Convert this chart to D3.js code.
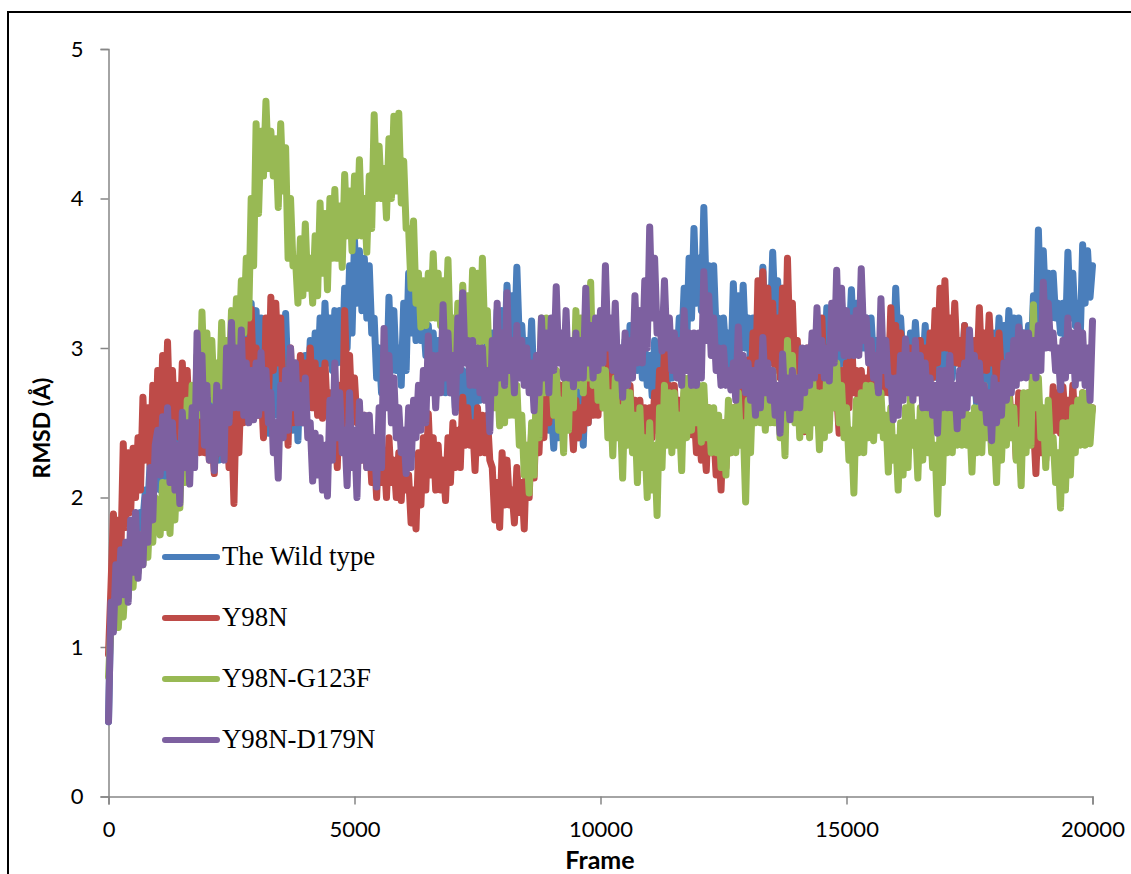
<!DOCTYPE html>
<html>
<head>
<meta charset="utf-8">
<script src="https://cdn.jsdelivr.net/npm/d3@7"></script>
<style>
  html, body { margin: 0; padding: 0; background: #fff; overflow: hidden; }
  text { fill: #000; }
</style>
</head>
<body>
<svg id="chart" width="1131" height="874"></svg>
<script>
// one value every 50 frames, each row is 1000 frames; the trace swings up and
// down inside its band so the values go high, low, high, low
const frames = d3.range(0, 20001, 50);

const wildType = [
  0.5,1.3,1.35,1.45,1.4,1.5,1.4,1.55,1.5,1.65,1.55,1.75,1.7,1.9,1.85,2.05,1.95,2.25,2.0,2.3,
  2.3,2.05,2.4,2.1,2.45,2.15,2.5,2.2,2.55,2.2,2.6,2.25,2.65,2.3,2.7,2.3,2.65,2.33,2.8,2.4,
  2.7,2.35,2.65,2.3,2.6,2.25,2.75,2.4,2.9,2.5,3.0,2.55,3.1,2.65,3.15,2.7,3.2,2.75,3.3,2.8,
  3.25,2.75,3.2,2.65,3.0,2.43,3.1,2.55,2.9,2.55,3.05,2.7,3.23,2.75,2.85,2.45,2.9,2.38,2.9,2.5,
  2.95,2.65,3.05,2.7,3.1,2.75,3.2,2.8,3.3,2.9,3.2,2.85,3.25,2.9,3.25,2.9,3.4,3.0,3.55,3.1,
  3.72,3.3,3.65,3.25,3.6,3.2,3.55,3.1,3.2,2.8,3.0,2.7,2.95,2.7,3.34,2.85,3.25,2.85,3.0,2.75,
  3.3,2.85,3.5,3.1,3.4,3.05,3.25,3.05,3.2,2.95,3.15,2.9,3.1,2.8,3.05,2.8,3.0,2.7,2.95,2.7,
  2.95,2.6,2.85,2.6,2.85,2.5,2.8,2.5,2.75,2.5,2.85,2.65,3.0,2.7,3.05,2.7,3.1,2.8,3.25,2.85,
  3.25,2.95,3.42,3.0,3.35,3.0,3.54,3.05,3.15,2.85,3.05,2.8,3.18,2.7,2.95,2.65,2.85,2.55,2.7,2.45,
  2.6,2.33,2.7,2.4,2.75,2.45,2.85,2.5,2.9,2.55,2.75,2.4,2.7,2.35,2.85,2.5,3.0,2.6,3.05,2.7,
  3.05,2.75,3.1,2.75,3.1,2.8,3.16,2.85,3.0,2.7,3.05,2.75,3.15,2.85,3.2,2.85,3.2,2.8,3.0,2.75,
  2.95,2.68,3.05,2.7,3.0,2.72,3.0,2.75,2.95,2.8,3.0,2.85,3.2,3.0,3.4,3.0,3.6,3.2,3.8,3.3,
  3.6,3.25,3.94,3.35,3.55,3.2,3.55,3.1,3.2,2.9,3.2,2.95,3.1,2.85,3.43,3.0,3.35,3.0,3.42,3.0,
  3.2,2.9,3.2,2.95,3.3,3.0,3.54,3.1,3.4,3.1,3.64,3.2,3.45,3.1,3.4,3.0,3.1,2.85,3.1,2.7,
  2.9,2.6,2.9,2.65,2.95,2.7,3.0,2.75,3.05,2.8,3.1,2.85,3.27,2.9,3.1,2.8,3.15,2.85,3.3,2.9,
  3.2,3.0,3.39,3.0,3.3,3.0,3.38,3.0,3.2,2.95,3.2,2.9,3.05,2.85,3.1,2.85,3.05,2.8,3.15,2.85,
  3.4,3.0,3.2,2.9,3.0,2.8,3.1,2.85,3.17,2.9,3.05,2.85,3.15,2.85,3.05,2.85,3.1,2.8,3.0,2.8,
  3.1,2.8,3.05,2.8,3.15,2.9,3.05,2.85,3.15,2.85,3.0,2.7,2.85,2.6,2.7,2.43,2.85,2.6,3.05,2.75,
  3.1,2.85,3.2,2.9,3.15,2.9,3.25,2.95,3.2,2.9,3.2,2.95,3.1,2.9,3.15,2.9,3.35,3.0,3.79,3.2,
  3.65,3.25,3.5,3.2,3.5,3.2,3.3,3.1,3.3,3.05,3.64,3.2,3.5,3.15,3.3,3.05,3.69,3.3,3.65,3.34,
  3.55
];

const y98n = [
  0.95,1.4,1.89,1.5,1.85,1.6,2.36,1.8,2.3,1.9,2.33,2.0,2.4,2.05,2.67,2.25,2.6,2.2,2.75,2.3,
  2.85,2.4,2.95,2.45,3.04,2.5,2.85,2.45,2.75,2.4,2.9,2.5,2.85,2.4,2.7,2.35,2.6,2.3,2.6,2.3,
  2.55,2.25,2.5,2.16,2.6,2.3,2.75,2.4,2.6,2.2,2.5,1.96,2.7,2.3,2.8,2.5,3.05,2.55,3.26,2.7,
  3.0,2.55,2.75,2.4,3.2,2.6,3.34,2.85,3.3,2.9,3.2,2.6,2.75,2.35,3.0,2.5,2.85,2.6,2.95,2.6,
  2.9,2.6,3.0,2.6,2.9,2.55,2.85,2.53,2.9,2.55,2.7,2.35,2.55,2.2,2.75,2.4,3.25,2.7,2.95,2.55,
  2.8,2.5,2.55,2.25,2.55,2.2,2.4,2.1,2.3,2.0,2.45,2.1,2.3,2.0,2.4,2.1,2.25,2.0,2.3,1.98,
  2.4,2.05,2.15,1.83,2.05,1.79,2.3,1.95,2.4,2.05,2.56,2.15,2.4,2.05,2.35,2.05,2.25,1.98,2.4,2.1,
  2.5,2.2,2.45,2.2,2.67,2.35,2.6,2.35,2.5,2.18,2.6,2.3,2.55,2.3,2.55,2.25,2.2,1.85,2.1,1.8,
  2.3,1.95,2.25,1.95,2.05,1.83,2.2,1.9,2.1,1.79,2.32,2.0,2.45,2.13,2.6,2.3,2.72,2.4,2.85,2.5,
  3.05,2.55,2.85,2.5,2.75,2.45,2.9,2.5,2.6,2.32,2.65,2.4,2.6,2.45,2.75,2.5,2.9,2.55,2.85,2.55,
  3.0,2.6,3.12,2.65,3.0,2.6,2.8,2.55,2.85,2.55,2.7,2.5,2.75,2.45,2.65,2.45,2.65,2.4,2.6,2.38,
  2.6,2.4,2.7,2.45,2.85,2.5,3.0,2.6,2.75,2.5,2.75,2.45,2.65,2.4,2.7,2.45,2.6,2.42,2.6,2.3,
  2.45,2.25,2.4,2.18,2.6,2.3,2.45,2.15,2.35,2.05,2.5,2.2,2.55,2.3,2.6,2.35,2.7,2.4,2.85,2.5,
  2.92,2.6,3.1,2.7,3.45,2.9,3.51,3.0,3.4,2.9,3.3,2.85,3.2,2.8,3.4,2.85,3.6,3.0,3.3,2.8,
  3.05,2.7,2.75,2.44,3.0,2.55,2.9,2.6,3.0,2.65,3.2,2.7,3.0,2.65,3.0,2.6,2.7,2.43,2.85,2.55,
  2.9,2.6,3.1,2.7,2.85,2.6,2.85,2.6,2.8,2.55,2.95,2.65,2.85,2.6,3.05,2.7,3.0,2.7,3.27,2.8,
  3.15,2.8,3.1,2.8,3.05,2.75,3.0,2.75,2.9,2.7,3.05,2.75,3.0,2.8,3.1,2.8,3.25,2.9,3.4,3.0,
  3.45,3.0,3.2,2.9,3.3,2.9,3.05,2.8,3.15,2.85,3.0,2.8,3.05,2.8,3.27,2.85,3.1,2.85,3.22,2.9,
  3.05,2.75,3.1,2.8,2.9,2.65,2.75,2.5,2.6,2.26,2.7,2.4,2.65,2.4,2.7,2.4,2.5,2.16,2.6,2.3,
  2.5,2.25,2.6,2.35,2.74,2.45,2.7,2.43,2.74,2.5,2.65,2.4,2.75,2.45,2.65,2.45,2.7,2.45,2.65,2.5,
  2.6
];

const y98nG123f = [
  0.8,1.15,1.2,1.3,1.13,1.45,1.2,1.5,1.33,1.65,1.4,1.7,1.5,1.75,1.55,1.8,1.6,1.95,1.7,2.0,
  1.95,1.75,2.1,1.8,2.1,1.76,2.2,1.85,2.25,1.93,2.45,2.1,2.65,2.3,2.75,2.4,2.95,2.55,3.24,2.75,
  3.1,2.7,3.05,2.65,2.9,2.6,3.17,2.7,3.05,2.75,3.25,2.9,3.33,3.0,3.45,3.1,3.6,3.2,4.0,3.55,
  4.5,3.9,4.45,4.15,4.65,4.2,4.45,4.15,4.4,3.94,4.5,4.05,4.34,3.6,4.0,3.55,3.6,3.3,3.73,3.35,
  3.83,3.4,3.6,3.3,3.75,3.35,3.97,3.5,3.9,3.39,4.0,3.6,4.06,3.6,3.95,3.54,4.16,3.75,4.05,3.65,
  4.15,3.75,4.26,3.75,4.0,3.64,4.15,3.8,4.56,4.0,4.35,4.0,4.2,3.87,4.4,4.0,4.55,4.05,4.57,3.97,
  4.25,3.8,3.8,3.4,3.85,3.3,3.5,3.14,3.45,3.15,3.5,3.2,3.63,3.2,3.5,3.15,3.45,3.1,3.59,3.0,
  3.2,2.85,3.3,2.9,3.42,3.0,3.35,2.95,3.52,3.05,3.5,3.0,3.6,3.05,3.25,2.8,3.0,2.6,2.85,2.48,
  2.85,2.5,2.9,2.55,2.85,2.55,2.75,2.35,2.55,2.15,2.35,2.03,2.5,2.15,2.8,2.4,3.2,2.7,3.2,2.75,
  2.9,2.55,2.85,2.45,2.65,2.3,2.85,2.45,3.0,2.6,3.25,2.75,3.2,2.7,3.3,2.8,3.44,2.75,3.1,2.65,
  3.05,2.6,2.85,2.4,2.7,2.28,2.8,2.4,2.6,2.13,2.75,2.35,2.7,2.3,2.55,2.1,2.6,2.2,2.4,2.0,
  2.5,2.05,2.35,1.88,2.6,2.2,2.75,2.35,2.7,2.3,2.7,2.35,2.55,2.18,2.8,2.4,2.8,2.45,2.85,2.5,
  2.75,2.37,2.75,2.4,2.6,2.3,2.6,2.3,2.55,2.2,2.5,2.15,2.65,2.3,2.6,2.3,2.7,2.35,2.5,1.97,
  2.65,2.3,2.8,2.5,2.75,2.5,2.75,2.45,2.8,2.5,2.85,2.5,2.7,2.4,2.7,2.28,3.05,2.55,2.95,2.5,
  2.8,2.4,2.85,2.45,2.75,2.4,2.9,2.5,2.7,2.32,2.7,2.4,2.85,2.45,2.95,2.6,2.9,2.5,2.75,2.4,
  2.6,2.25,2.45,2.03,2.65,2.3,2.7,2.3,2.75,2.4,2.75,2.38,2.7,2.45,2.7,2.4,2.55,2.17,2.6,2.25,
  2.4,2.05,2.5,2.15,2.6,2.2,2.7,2.35,2.5,2.13,2.6,2.25,2.6,2.3,2.55,2.2,2.35,1.89,2.45,2.1,
  2.7,2.3,2.6,2.3,2.65,2.35,2.7,2.35,2.7,2.35,2.55,2.17,2.6,2.3,2.6,2.3,2.75,2.4,2.6,2.3,
  2.45,2.1,2.6,2.25,2.65,2.35,2.7,2.4,2.6,2.25,2.45,2.08,2.7,2.3,2.7,2.35,3.29,2.6,2.8,2.4,
  2.6,2.2,2.65,2.3,2.4,2.1,2.3,1.93,2.5,2.05,2.5,2.15,2.6,2.3,2.65,2.35,2.7,2.35,2.7,2.36,
  2.6
];

const y98nD179n = [
  0.5,1.3,1.1,1.55,1.3,1.65,1.35,1.7,1.3,1.85,1.5,1.9,1.46,1.75,1.55,2.0,1.7,2.2,1.85,2.35,
  2.45,2.15,2.54,2.2,2.6,2.1,2.5,2.05,2.35,1.96,2.57,2.2,2.5,2.09,2.6,2.2,3.1,2.6,2.95,2.35,
  2.75,2.25,2.6,2.18,2.75,2.3,2.7,2.25,3.0,2.5,3.17,2.6,3.0,2.6,3.12,2.55,2.9,2.5,2.85,2.52,
  2.9,2.55,2.97,2.6,2.85,2.5,2.7,2.3,2.5,2.13,2.75,2.4,2.85,2.45,3.0,2.6,2.9,2.5,2.75,2.5,
  2.8,2.4,2.5,2.11,2.43,2.15,2.4,2.05,2.35,2.01,2.65,2.25,2.9,2.4,2.7,2.3,2.45,2.08,2.7,2.2,
  2.45,2.0,2.64,2.25,2.55,2.2,2.55,2.2,2.4,2.07,2.6,2.2,3.13,2.6,2.95,2.5,2.8,2.4,2.6,2.3,
  2.45,2.16,2.6,2.2,2.65,2.4,2.75,2.45,2.85,2.5,3.08,2.7,2.95,2.6,2.95,2.7,3.29,2.8,3.1,2.7,
  2.95,2.57,3.2,2.85,3.37,2.9,3.05,2.75,3.05,2.75,3.0,2.7,3.0,2.65,2.85,2.44,3.05,2.7,3.3,2.8,
  3.1,2.75,3.37,2.85,3.05,2.7,3.15,2.8,3.05,2.75,3.0,2.7,2.9,2.58,2.95,2.7,3.2,2.8,3.1,2.7,
  3.2,2.85,3.41,2.9,3.1,2.8,3.25,2.8,3.05,2.74,3.1,2.8,3.05,2.8,3.4,2.9,3.15,2.8,3.2,2.85,
  3.25,2.9,3.55,3.0,3.2,2.85,3.3,2.8,3.0,2.67,3.1,2.75,3.05,2.8,3.35,2.9,3.25,2.9,3.45,3.0,
  3.81,3.2,3.6,3.1,3.2,2.98,3.45,3.0,3.2,2.85,3.1,2.8,3.05,2.75,3.25,2.85,3.1,2.75,3.1,2.75,
  3.1,2.8,3.51,3.05,3.35,2.95,3.2,2.85,3.0,2.75,3.0,2.75,2.85,2.72,2.9,2.65,3.14,2.75,2.95,2.7,
  2.9,2.65,2.85,2.55,2.9,2.6,3.07,2.7,2.9,2.65,2.85,2.55,2.75,2.43,2.96,2.6,2.8,2.52,2.85,2.6,
  2.8,2.6,3.0,2.7,3.0,2.75,3.1,2.8,3.27,2.85,3.05,2.8,3.0,2.78,3.3,2.9,3.52,3.0,3.4,2.95,
  3.25,2.95,3.2,2.95,3.25,2.95,3.53,3.05,3.2,2.9,3.05,2.8,2.95,2.7,3.33,2.85,3.05,2.75,2.8,2.52,
  2.8,2.55,2.95,2.65,3.06,2.7,2.95,2.65,3.05,2.7,2.95,2.6,2.9,2.6,2.8,2.55,2.75,2.43,2.85,2.6,
  2.85,2.6,2.95,2.6,2.75,2.46,2.85,2.55,2.9,2.6,3.12,2.7,2.95,2.65,2.9,2.6,2.75,2.5,2.7,2.38,
  2.8,2.5,2.75,2.55,2.9,2.65,2.95,2.7,3.05,2.75,3.14,2.8,3.1,2.8,3.1,2.85,3.05,2.8,3.15,2.85,
  3.44,3.0,3.3,3.0,3.1,2.85,3.0,2.72,3.05,2.8,3.2,2.85,3.1,2.75,3.15,2.8,3.1,2.75,3.0,2.65,
  3.18
];

const seriesNames = ["The Wild type", "Y98N", "Y98N-G123F", "Y98N-D179N"];
const seriesValues = [wildType, y98n, y98nG123f, y98nD179n];
const seriesColors = ["#4a7ebb", "#be4b48", "#98b954", "#7d60a0"];

const xTicks = [0, 5000, 10000, 15000, 20000];
const yTicks = [0, 1, 2, 3, 4, 5];

const svg = d3.select("#chart");

// outer frame of the figure, only top and left are in the picture
svg.append("path")
  .attr("d", "M8,874V12H1131")
  .attr("fill", "none")
  .attr("stroke", "#000")
  .attr("stroke-width", 2);

const x = d3.scaleLinear().domain([0, 20000]).range([108.5, 1092.5]);
const y = d3.scaleLinear().domain([0, 5]).range([796.5, 49]);

const xAxis = d3.axisBottom(x).tickValues(xTicks).tickFormat(d3.format("d")).tickSize(8).tickPadding(17);
const yAxis = d3.axisLeft(y).tickValues(yTicks).tickFormat(d3.format("d")).tickSize(8).tickPadding(17);

const gx = svg.append("g").attr("transform", "translate(0,796.5)").call(xAxis);
const gy = svg.append("g").attr("transform", "translate(108.5,0)").call(yAxis);

[gx, gy].forEach(g => {
  g.selectAll("path, line").attr("stroke", "#868686").attr("stroke-width", 1.5);
  g.selectAll("text").style("font-family", "Lato").style("font-size", "22px").style("fill", "#000");
});

const line = d3.line()
  .x((d, i) => x(frames[i]))
  .y(d => y(d));

seriesValues.forEach((values, i) => {
  svg.append("path")
    .attr("d", line(values))
    .attr("fill", "none")
    .attr("stroke", seriesColors[i])
    .attr("stroke-width", 7)
    .attr("stroke-linejoin", "round")
    .attr("stroke-linecap", "round");
});

// legend sits inside the plot
const legendY = d3.scalePoint().domain(seriesNames).range([557, 740]);

seriesNames.forEach((name, i) => {
  svg.append("line")
    .attr("x1", 165).attr("x2", 217)
    .attr("y1", legendY(name)).attr("y2", legendY(name))
    .attr("stroke", seriesColors[i])
    .attr("stroke-width", 6)
    .attr("stroke-linecap", "round");
  svg.append("text")
    .attr("x", 222)
    .attr("y", legendY(name) + 8)
    .style("font-family", "Liberation Serif")
    .style("font-size", "26.8px")
    .text(name);
});

svg.append("text")
  .attr("transform", "translate(50,428) rotate(-90)")
  .attr("text-anchor", "middle")
  .style("font-family", "Lato")
  .style("font-weight", "bold")
  .style("font-size", "23px")
  .text("RMSD (Å)");

svg.append("text")
  .attr("x", 600)
  .attr("y", 869)
  .attr("text-anchor", "middle")
  .style("font-family", "Lato")
  .style("font-weight", "bold")
  .style("font-size", "25px")
  .text("Frame");
</script>
</body>
</html>
